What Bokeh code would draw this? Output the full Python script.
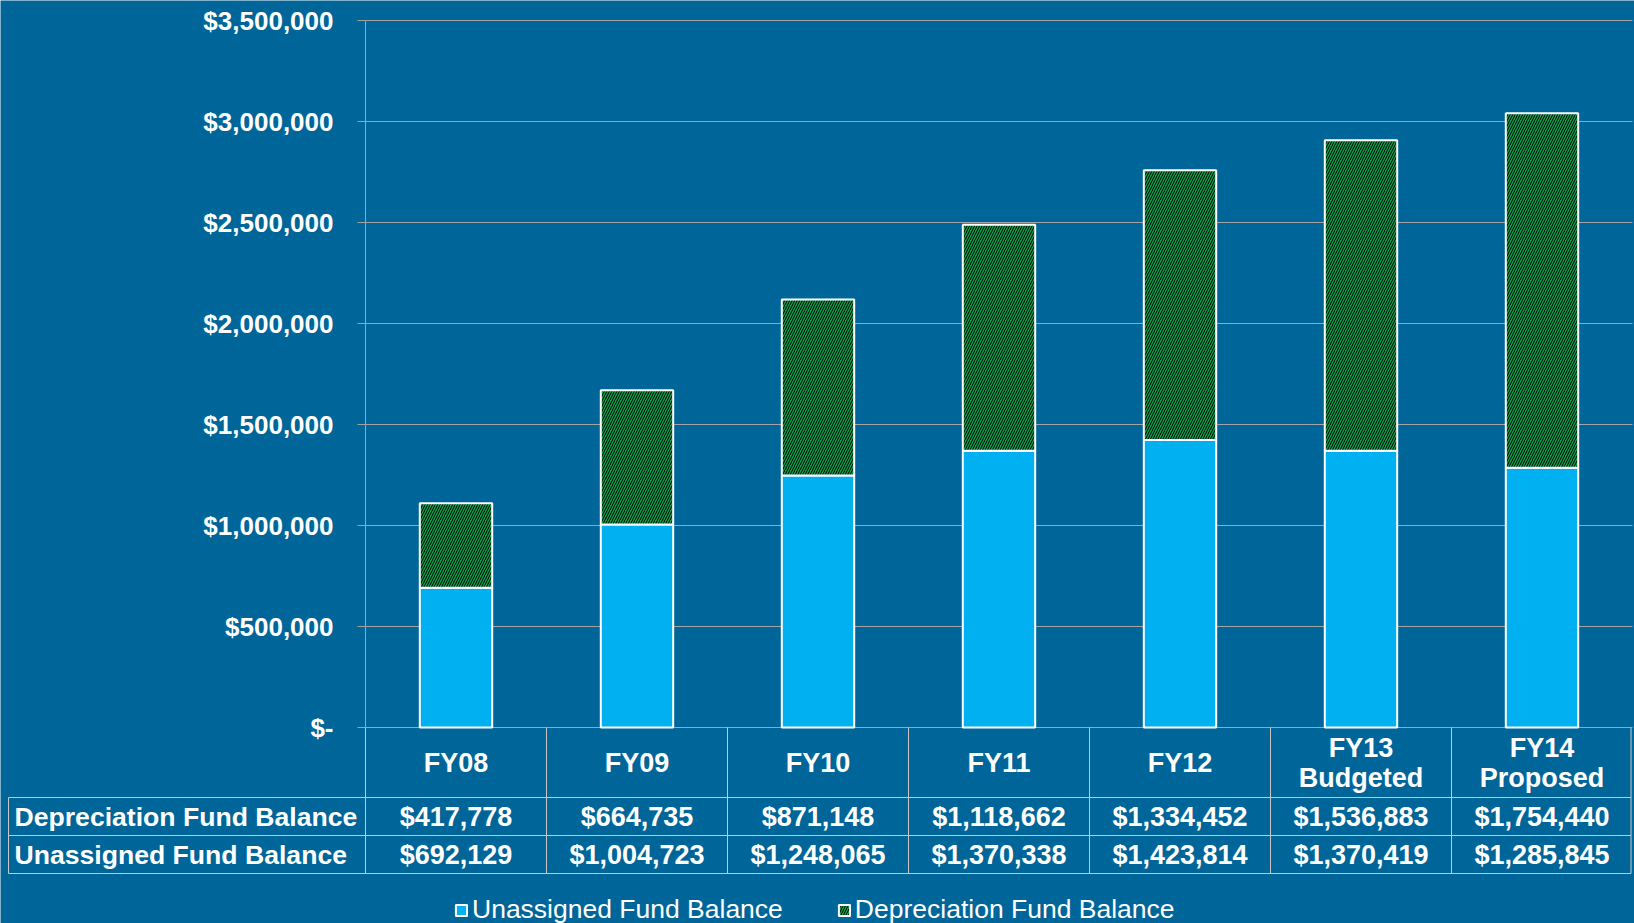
import numpy as np
from bokeh.plotting import figure
from bokeh.models import (Range1d, FixedTicker, NumeralTickFormatter, Legend, LegendItem,
                          LinearAxis)
from bokeh.core.properties import value
from bokeh.embed import file_html
from bokeh.resources import INLINE

# ---------------- data ----------------
categories = ["FY08", "FY09", "FY10", "FY11", "FY12", "FY13\nBudgeted", "FY14\nProposed"]
unassigned = [692129, 1004723, 1248065, 1370338, 1423814, 1370419, 1285845]
depreciation = [417778, 664735, 871148, 1118662, 1334452, 1536883, 1754440]
row_labels = ["Depreciation Fund Balance", "Unassigned Fund Balance"]
series_names = ["Unassigned Fund Balance", "Depreciation Fund Balance"]
y_ticks = [0, 500000, 1000000, 1500000, 2000000, 2500000, 3000000, 3500000]

# ---------------- styles / layout ----------------
BG = "#006699"
BLUE = "#00B0F0"
GREEN = "#0FA04E"
GRID = "#a3a3a3"
TABLE_LINE = "#c8c8c8"
FONT = "Liberation Sans"
W, H = 1634, 923
LEFT, RIGHT = 365, 2
TOP_Y, ZERO_Y = 20, 727
n = len(categories)
cat_w = (W - LEFT - RIGHT) / n
k = (ZERO_Y - TOP_Y) / y_ticks[-1]


def py(px):
    """canvas row (from top) -> data y"""
    return (ZERO_Y - px) / k


def pxx(px):
    """canvas column -> data x"""
    return (px - LEFT) / cat_w


p = figure(width=W, height=H, output_backend="svg", toolbar_location=None,
           x_range=Range1d(pxx(0), pxx(W)), y_range=Range1d(py(H), py(0)),
           x_axis_location=None, y_axis_location=None, min_border=0)
p.background_fill_color = BG
p.border_fill_color = BG
p.outline_line_color = None
p.grid.visible = False

# y axis drawn at x = 0 (left edge of the plotting area)
ya = LinearAxis(fixed_location=0)
ya.ticker = FixedTicker(ticks=y_ticks)
ya.formatter = NumeralTickFormatter(format="$0,0")
ya.major_label_overrides = {0: "$-"}
ya.bounds = (0, y_ticks[-1])
ya.major_label_text_font = FONT
ya.major_label_text_font_style = "bold"
ya.major_label_text_font_size = "26px"
ya.major_label_text_color = "white"
ya.major_label_standoff = 24
ya.major_tick_out = 8
ya.major_tick_in = 0
ya.major_tick_line_color = GRID
ya.minor_tick_line_color = None
ya.axis_line_color = GRID
p.add_layout(ya, "left")

# horizontal grid lines at the tick values, across the plotting area
p.segment(x0=0, y0=y_ticks, x1=n, y1=y_ticks, line_color=GRID, line_width=1)

xc = np.arange(n) + 0.5
tops = np.add(unassigned, depreciation)
r_un = p.vbar(x=xc, width=0.4, bottom=0, top=unassigned, fill_color=BLUE,
              line_color="white", line_width=2)
r_dep = p.vbar(x=xc, width=0.4, bottom=unassigned, top=tops, fill_color=GREEN,
               hatch_pattern="/", hatch_color="black", hatch_scale=5, hatch_weight=1,
               line_color="white", line_width=2)

# ---------------- data table ----------------
x_lab = pxx(8)
rows_y = [py(797), py(835), py(873)]
div = np.arange(n + 1) - np.r_[np.zeros(n), 1.5 / cat_w]
p.segment(x0=x_lab, y0=rows_y, x1=div[-1], y1=rows_y, line_color=TABLE_LINE, line_width=1)
p.segment(x0=x_lab, y0=rows_y[0], x1=x_lab, y1=rows_y[-1], line_color=TABLE_LINE, line_width=1)
p.segment(x0=div, y0=0, x1=div, y1=rows_y[-1], line_color=TABLE_LINE, line_width=1)

tstyle = dict(text_font=value(FONT), text_font_style="bold", text_font_size="27px",
              text_color="white", text_baseline="middle", text_line_height=1.0)
p.text(x=xc, y=py(762), text=categories, text_align="center", **tstyle)
p.text(x=xc, y=py(816), text=[f"${v:,}" for v in depreciation], text_align="center", **tstyle)
p.text(x=xc, y=py(854), text=[f"${v:,}" for v in unassigned], text_align="center", **tstyle)
lstyle = dict(tstyle, text_font_size="26.6px")
p.text(x=pxx(14), y=[py(816), py(854)], text=row_labels, text_align="left", **lstyle)

# ---------------- legend ----------------
legend = Legend(items=[LegendItem(label=series_names[0], renderers=[r_un]),
                       LegendItem(label=series_names[1], renderers=[r_dep])],
                orientation="horizontal", location=(454, -2),
                glyph_width=14, glyph_height=14, label_standoff=4, spacing=54,
                padding=0, margin=0, border_line_color=None, background_fill_alpha=0,
                label_text_font=FONT, label_text_font_size="26.5px", label_text_color="white")
p.add_layout(legend)

open("out.html", "w").write(file_html(p, INLINE))
